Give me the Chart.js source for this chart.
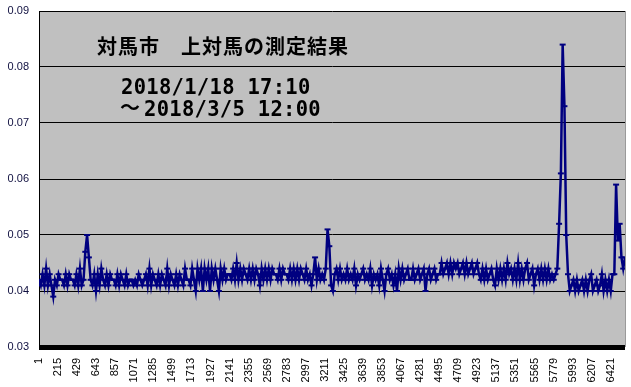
<!DOCTYPE html>
<html>
<head>
<meta charset="utf-8">
<script src="https://cdn.jsdelivr.net/npm/chart.js@4/dist/chart.umd.min.js"></script>
<style>
  body { margin: 0; background: #fff; }
</style>
</head>
<body>
<canvas id="dose-chart" width="631" height="387"></canvas>
<script>
// Measurement data (μSv/h), one reading kept every 20 measurements

const firstMeasurement = 1;
const measurementStep = 20;

const readings = [
  0.042, 0.041, 0.043, 0.041, 0.044, 0.041, 0.043, 0.041, 0.039, 0.042,
  0.041, 0.043, 0.042, 0.042, 0.041, 0.043, 0.041, 0.043, 0.042, 0.042,
  0.041, 0.043, 0.041, 0.044, 0.041, 0.042, 0.047, 0.050, 0.046, 0.042,
  0.041, 0.043, 0.040, 0.043, 0.041, 0.044, 0.042, 0.041, 0.043, 0.041,
  0.043, 0.042, 0.042, 0.041, 0.043, 0.041, 0.043, 0.042, 0.041, 0.043,
  0.041, 0.042, 0.042, 0.041, 0.042, 0.041, 0.043, 0.042, 0.041, 0.042,
  0.043, 0.041, 0.044, 0.041, 0.043, 0.042, 0.041, 0.043, 0.041, 0.043,
  0.042, 0.041, 0.044, 0.041, 0.043, 0.042, 0.041, 0.043, 0.041, 0.043,
  0.042, 0.041, 0.044, 0.042, 0.042, 0.041, 0.044, 0.042, 0.040, 0.044,
  0.042, 0.044, 0.040, 0.044, 0.042, 0.044, 0.040, 0.044, 0.042, 0.044,
  0.042, 0.040, 0.044, 0.042, 0.044, 0.042, 0.043, 0.043, 0.042, 0.044,
  0.042, 0.045, 0.042, 0.044, 0.042, 0.044, 0.043, 0.042, 0.044, 0.042,
  0.044, 0.042, 0.044, 0.043, 0.041, 0.044, 0.042, 0.044, 0.042, 0.044,
  0.042, 0.044, 0.043, 0.043, 0.042, 0.044, 0.042, 0.044, 0.043, 0.043,
  0.042, 0.044, 0.042, 0.044, 0.042, 0.044, 0.042, 0.044, 0.043, 0.042,
  0.044, 0.042, 0.043, 0.041, 0.043, 0.046, 0.042, 0.044, 0.042, 0.043,
  0.042, 0.044, 0.051, 0.048, 0.041, 0.040, 0.043, 0.044, 0.042, 0.044,
  0.042, 0.043, 0.042, 0.044, 0.042, 0.043, 0.042, 0.044, 0.041, 0.043,
  0.042, 0.043, 0.044, 0.042, 0.043, 0.042, 0.044, 0.041, 0.043, 0.042,
  0.043, 0.041, 0.044, 0.042, 0.040, 0.043, 0.044, 0.042, 0.043, 0.041,
  0.043, 0.040, 0.044, 0.042, 0.044, 0.042, 0.043, 0.044, 0.042, 0.042,
  0.044, 0.042, 0.043, 0.044, 0.042, 0.043, 0.044, 0.040, 0.043, 0.044,
  0.042, 0.043, 0.044, 0.042, 0.043, 0.043, 0.045, 0.043, 0.044, 0.045,
  0.043, 0.045, 0.043, 0.045, 0.044, 0.045, 0.043, 0.044, 0.045, 0.043,
  0.045, 0.043, 0.044, 0.045, 0.043, 0.044, 0.045, 0.043, 0.042, 0.044,
  0.042, 0.044, 0.042, 0.043, 0.044, 0.042, 0.041, 0.044, 0.042, 0.044,
  0.042, 0.044, 0.042, 0.045, 0.043, 0.044, 0.042, 0.044, 0.042, 0.045,
  0.042, 0.044, 0.042, 0.044, 0.045, 0.042, 0.043, 0.044, 0.041, 0.043,
  0.044, 0.042, 0.044, 0.042, 0.044, 0.042, 0.044, 0.042, 0.043, 0.042,
  0.043, 0.044, 0.052, 0.061, 0.084, 0.073, 0.050, 0.043, 0.040, 0.041,
  0.042, 0.040, 0.042, 0.040, 0.041, 0.042, 0.040, 0.042, 0.040, 0.042,
  0.043, 0.040, 0.041, 0.042, 0.040, 0.041, 0.043, 0.040, 0.042, 0.040,
  0.042, 0.040, 0.043, 0.043, 0.059, 0.049, 0.052, 0.046, 0.044, 0.046
];

const xTickLabels = [
  1, 215, 429, 643, 857, 1071, 1285, 1499, 1713, 1927, 2141,
  2355, 2569, 2783, 2997, 3211, 3425, 3639, 3853, 4067, 4281,
  4495, 4709, 4923, 5137, 5351, 5565, 5779, 5993, 6207, 6421
];

const yTickValues = [0.03, 0.04, 0.05, 0.06, 0.07, 0.08, 0.09];

const titleLine = "対馬市　上対馬の測定結果";
const periodStart = "2018/1/18 17:10";
const periodEnd = "2018/3/5 12:00";

// Build points (measurement number, reading)

let points = readings.map((value, i) => ({
  x: firstMeasurement + i * measurementStep,
  y: value,
}));
let lastMeasurement = firstMeasurement + (readings.length - 1) * measurementStep;

// Grey plot area and title text

const plotArea = {
  id: "plotArea",
  beforeDraw(chart) {
    const { ctx, chartArea } = chart;
    ctx.save();
    ctx.fillStyle = "#c0c0c0";
    ctx.fillRect(chartArea.left, chartArea.top, chartArea.width, chartArea.height);
    ctx.restore();
  },
  afterDraw(chart) {
    const { ctx, chartArea } = chart;
    ctx.save();
    ctx.strokeStyle = "#9a9a9a";
    ctx.lineWidth = 1;
    ctx.beginPath();
    ctx.moveTo(chartArea.right + 0.5, chartArea.top);
    ctx.lineTo(chartArea.right + 0.5, chartArea.bottom);
    ctx.stroke();

    ctx.fillStyle = "#000";
    ctx.textBaseline = "alphabetic";
    ctx.font = "bold 20px 'Noto Sans CJK JP'";
    ctx.letterSpacing = "1px";
    ctx.fillText(titleLine, 97, 54);
    ctx.letterSpacing = "0.3px";
    ctx.font = "bold 20.5px 'DejaVu Sans Mono'";
    ctx.fillText(periodStart, 121, 94);
    ctx.letterSpacing = "0px";
    ctx.font = "bold 20px 'Noto Sans CJK JP'";
    ctx.fillText("～", 120, 115);
    ctx.letterSpacing = "0.3px";
    ctx.font = "bold 20.5px 'DejaVu Sans Mono'";
    ctx.fillText(periodEnd, 144, 116);
    ctx.restore();
  },
};

let doseChart = new Chart(document.getElementById("dose-chart"), {
  type: "line",
  data: {
    datasets: [
      {
        data: points,
        borderColor: "#000080",
        borderWidth: 2.5,
        pointStyle: "line",
        pointRadius: 3,
        pointBorderWidth: 2,
        pointBorderColor: "#000080",
        pointBackgroundColor: "#000080",
        tension: 0,
      },
    ],
  },
  options: {
    responsive: false,
    animation: false,
    devicePixelRatio: 1,
    layout: { padding: { top: 11, right: 2, left: 0, bottom: 0 } },
    plugins: {
      legend: { display: false },
      tooltip: { enabled: false },
    },
    scales: {
      x: {
        type: "linear",
        min: firstMeasurement,
        max: lastMeasurement,
        afterBuildTicks: (scale) => {
          scale.ticks = xTickLabels.map((v) => ({ value: v }));
        },
        afterFit: (scale) => {
          scale.height = 40;
        },
        grid: { display: false },
        border: { display: false },
        ticks: {
          autoSkip: false,
          maxRotation: 90,
          minRotation: 90,
          padding: 3,
          color: "#000",
          font: { family: "'Liberation Sans', Arial", size: 11 },
          callback: (v) => String(v),
        },
      },
      y: {
        min: 0.03,
        max: 0.09,
        afterBuildTicks: (scale) => {
          scale.ticks = yTickValues.map((v) => ({ value: v }));
        },
        afterFit: (scale) => {
          scale.width = 39;
          scale.paddingTop = 0;
          scale.paddingBottom = 0;
        },
        grid: {
          color: "#000",
          lineWidth: (c) => (Math.abs(c.tick.value - 0.03) < 1e-6 ? 5 : 1),
          drawTicks: false,
        },
        border: { display: true, color: "#000", width: 1 },
        ticks: {
          padding: 10,
          color: "#101040",
          font: { family: "'Liberation Sans', Arial", size: 11 },
          callback: (v) => v.toFixed(2),
        },
      },
    },
  },
  plugins: [plotArea],
});
</script>
</body>
</html>
